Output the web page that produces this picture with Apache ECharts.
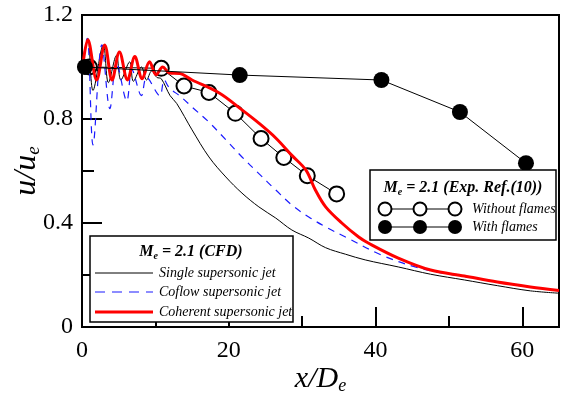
<!DOCTYPE html>
<html><head><meta charset="utf-8">
<script src="https://cdn.jsdelivr.net/npm/echarts@6/dist/echarts.min.js"></script>
<style>html,body{margin:0;padding:0;background:#fff}#c{width:564px;height:394px}</style>
</head><body><div id="c"></div>
<script>
// ---- Data ----
const singleX = [0, 0.8, 1.5, 2.9, 3.6, 4.7, 5.3, 6.5, 7.0, 8.1, 8.8, 9.5, 10.2, 10.8, 12, 12.9, 15, 17.3, 19.6, 21.8, 24.1, 26.4, 28.6, 30.9, 33.2, 35.9, 38.6, 43.1, 47.5, 52.1, 56.6, 61.1, 65];
const singleY = [0.98, 1.11, 0.91, 1.085, 0.94, 1.045, 0.95, 1.02, 0.945, 1.0, 0.95, 0.985, 0.96, 0.955, 0.89, 0.86, 0.758, 0.654, 0.577, 0.515, 0.462, 0.419, 0.373, 0.342, 0.305, 0.28, 0.258, 0.231, 0.203, 0.181, 0.159, 0.139, 0.13];
const coflowX = [0, 0.7, 1.5, 2.7, 3.8, 4.7, 6.1, 6.8, 8.1, 8.8, 10.6, 11.2, 11.9, 13.5, 15, 17.3, 19.6, 21.8, 24.1, 26.4, 28.6, 30.9, 33.2, 35.9, 40.8, 45.4, 49.8, 54.3, 58.9, 65];
const coflowY = [1.0, 1.11, 0.7, 1.085, 0.84, 1.015, 0.87, 0.99, 0.89, 0.96, 0.89, 0.95, 0.92, 0.885, 0.846, 0.788, 0.72, 0.654, 0.59, 0.527, 0.469, 0.423, 0.385, 0.346, 0.277, 0.231, 0.204, 0.185, 0.162, 0.14];
const coherentX = [0, 0.8, 2.0, 3.1, 4.1, 5.1, 6.2, 7.2, 8.2, 9.2, 10.1, 11, 11.9, 13.3, 15, 18.7, 21.8, 24.1, 26.4, 28.6, 30.5, 31.8, 33.2, 35.4, 37.7, 39, 43.1, 47.5, 52.1, 56.6, 61.1, 65];
const coherentY = [0.98, 1.105, 0.95, 1.085, 0.95, 1.058, 0.95, 1.04, 0.955, 1.02, 0.97, 1.0, 0.977, 0.975, 0.95, 0.9, 0.835, 0.784, 0.727, 0.66, 0.604, 0.527, 0.462, 0.4, 0.346, 0.323, 0.265, 0.219, 0.196, 0.173, 0.154, 0.14];
const withoutX = [1.0, 10.8, 13.9, 17.3, 20.9, 24.4, 27.5, 30.7, 34.7];
const withoutY = [1.0, 0.995, 0.927, 0.902, 0.822, 0.725, 0.652, 0.582, 0.512];
const withX = [0.4, 21.5, 40.8, 51.5, 60.5];
const withY = [1.0, 0.969, 0.95, 0.827, 0.63];
const xTicks = [0, 20, 40, 60];
const yTicks = [0, 0.4, 0.8, 1.2];

const zip = (a, b) => a.map((v, i) => [v, b[i]]);
const FONT = 'Liberation Serif';
const chart = echarts.init(document.getElementById('c'), null, {renderer: 'canvas'});
chart.setOption({
  animation: false,
  grid: {left: 82, right: 5, top: 15, bottom: 67, containLabel: false, outerBoundsMode: 'none',
    show: true, borderColor: '#000', borderWidth: 2, backgroundColor: 'transparent'},
  xAxis: {
    type: 'value', min: 0, max: 65, interval: 20,
    axisLine: {show: true, lineStyle: {color: '#000', width: 2}},
    axisTick: {inside: true, length: 20, lineStyle: {color: '#000', width: 2}},
    minorTick: {show: true, splitNumber: 2, length: 11, lineStyle: {color: '#000', width: 2}},
    splitLine: {show: false},
    axisLabel: {fontFamily: FONT, fontSize: 24, color: '#000', margin: 12,
      formatter: v => xTicks.includes(v) ? String(v) : ''},
    name: '{i|x/D}{s|e}', nameLocation: 'middle', nameGap: 36, nameMoveOverlap: false,
    nameTextStyle: {fontFamily: FONT, rich: {
      i: {fontFamily: FONT, fontStyle: 'italic', fontSize: 30, color: '#000'},
      s: {fontFamily: FONT, fontStyle: 'italic', fontSize: 18, color: '#000', padding: [14, 0, 0, 0]}}}
  },
  yAxis: {
    type: 'value', min: 0, max: 1.2, interval: 0.4,
    axisLine: {show: true, lineStyle: {color: '#000', width: 2}},
    axisTick: {inside: true, length: 20, lineStyle: {color: '#000', width: 2}},
    minorTick: {show: true, splitNumber: 2, length: 12, lineStyle: {color: '#000', width: 2}},
    splitLine: {show: false},
    axisLabel: {fontFamily: FONT, fontSize: 24, color: '#000', margin: 9,
      formatter: v => { const t = yTicks.find(k => Math.abs(k - v) < 1e-6); return t === undefined ? '' : (t === 0 ? '0' : t.toFixed(1)); }},
    name: '{i|u/u}{s|e}', nameLocation: 'middle', nameGap: 39, nameRotate: 90, nameMoveOverlap: false,
    nameTextStyle: {fontFamily: FONT, rich: {
      i: {fontFamily: FONT, fontStyle: 'italic', fontSize: 32, color: '#000'},
      s: {fontFamily: FONT, fontStyle: 'italic', fontSize: 19, color: '#000', padding: [14, 0, 0, 0]}}}
  },
  series: [
    {name: 'Without flames', type: 'line', data: zip(withoutX, withoutY), z: 2,
      symbol: 'circle', symbolSize: 15, lineStyle: {color: '#000', width: 1},
      itemStyle: {color: '#fff', borderColor: '#000', borderWidth: 2}},
    {name: 'Single supersonic jet', type: 'line', data: zip(singleX, singleY), z: 3, symbol: 'none', smooth: 0.35,
      lineStyle: {color: '#000', width: 1}},
    {name: 'Coflow supersonic jet', type: 'line', data: zip(coflowX, coflowY), z: 3, symbol: 'none', smooth: 0.35,
      lineStyle: {color: '#1a1aff', width: 1.2, type: [7, 6]}},
    {name: 'Coherent supersonic jet', type: 'line', data: zip(coherentX, coherentY), z: 4, symbol: 'none', smooth: 0.35,
      lineStyle: {color: '#ff0000', width: 3}},
    {name: 'With flames', type: 'line', data: zip(withX, withY), z: 5,
      symbol: 'circle', symbolSize: 16, lineStyle: {color: '#000', width: 1},
      itemStyle: {color: '#000', borderColor: '#000', borderWidth: 0}}
  ],
  graphic: [
    // Left legend (CFD)
    {type: 'rect', z: 100, shape: {x: 90, y: 236, width: 203, height: 86}, style: {fill: '#fff', stroke: '#000', lineWidth: 1.5}},
    {type: 'text', z: 101, x: 191, y: 252, style: {text: '{b|M}{bs|e}{b| = 2.1 (CFD)}', align: 'center', verticalAlign: 'middle',
      rich: {b: {fontFamily: FONT, fontStyle: 'italic', fontWeight: 'bold', fontSize: 16, fill: '#000'},
             bs: {fontFamily: FONT, fontStyle: 'italic', fontWeight: 'bold', fontSize: 10, fill: '#000', padding: [8, 0, 0, 0]}}}},
    {type: 'line', z: 101, shape: {x1: 95, y1: 273, x2: 153, y2: 273}, style: {stroke: '#000', lineWidth: 1}},
    {type: 'line', z: 101, shape: {x1: 95, y1: 292, x2: 153, y2: 292}, style: {stroke: '#1a1aff', lineWidth: 1.2, lineDash: [10, 7]}},
    {type: 'line', z: 101, shape: {x1: 95, y1: 312, x2: 153, y2: 312}, style: {stroke: '#ff0000', lineWidth: 3}},
    {type: 'text', z: 101, x: 159, y: 273, style: {text: 'Single supersonic jet', fontFamily: FONT, fontStyle: 'italic', fontSize: 14, fill: '#000', verticalAlign: 'middle'}},
    {type: 'text', z: 101, x: 159, y: 292, style: {text: 'Coflow supersonic jet', fontFamily: FONT, fontStyle: 'italic', fontSize: 14, fill: '#000', verticalAlign: 'middle'}},
    {type: 'text', z: 101, x: 159, y: 312, style: {text: 'Coherent supersonic jet', fontFamily: FONT, fontStyle: 'italic', fontSize: 14, fill: '#000', verticalAlign: 'middle'}},
    // Right legend (experiment)
    {type: 'rect', z: 100, shape: {x: 370, y: 170, width: 186, height: 70}, style: {fill: '#fff', stroke: '#000', lineWidth: 1.5}},
    {type: 'text', z: 101, x: 463, y: 188, style: {text: '{b|M}{bs|e}{b| = 2.1 (Exp. Ref.(10))}', align: 'center', verticalAlign: 'middle',
      rich: {b: {fontFamily: FONT, fontStyle: 'italic', fontWeight: 'bold', fontSize: 16, fill: '#000'},
             bs: {fontFamily: FONT, fontStyle: 'italic', fontWeight: 'bold', fontSize: 10, fill: '#000', padding: [8, 0, 0, 0]}}}},
    {type: 'line', z: 101, shape: {x1: 385, y1: 209, x2: 455, y2: 209}, style: {stroke: '#000', lineWidth: 1}},
    {type: 'line', z: 101, shape: {x1: 385, y1: 227, x2: 455, y2: 227}, style: {stroke: '#000', lineWidth: 1}},
    ...[385, 420, 455].map(cx => ({type: 'circle', z: 102, shape: {cx, cy: 209, r: 6.5}, style: {fill: '#fff', stroke: '#000', lineWidth: 2}})),
    ...[385, 420, 455].map(cx => ({type: 'circle', z: 102, shape: {cx, cy: 227, r: 7}, style: {fill: '#000', stroke: '#000', lineWidth: 0}})),
    {type: 'text', z: 101, x: 472, y: 209, style: {text: 'Without flames', fontFamily: FONT, fontStyle: 'italic', fontSize: 14, fill: '#000', verticalAlign: 'middle'}},
    {type: 'text', z: 101, x: 472, y: 227, style: {text: 'With flames', fontFamily: FONT, fontStyle: 'italic', fontSize: 14, fill: '#000', verticalAlign: 'middle'}}
  ]
});
</script></body></html>
